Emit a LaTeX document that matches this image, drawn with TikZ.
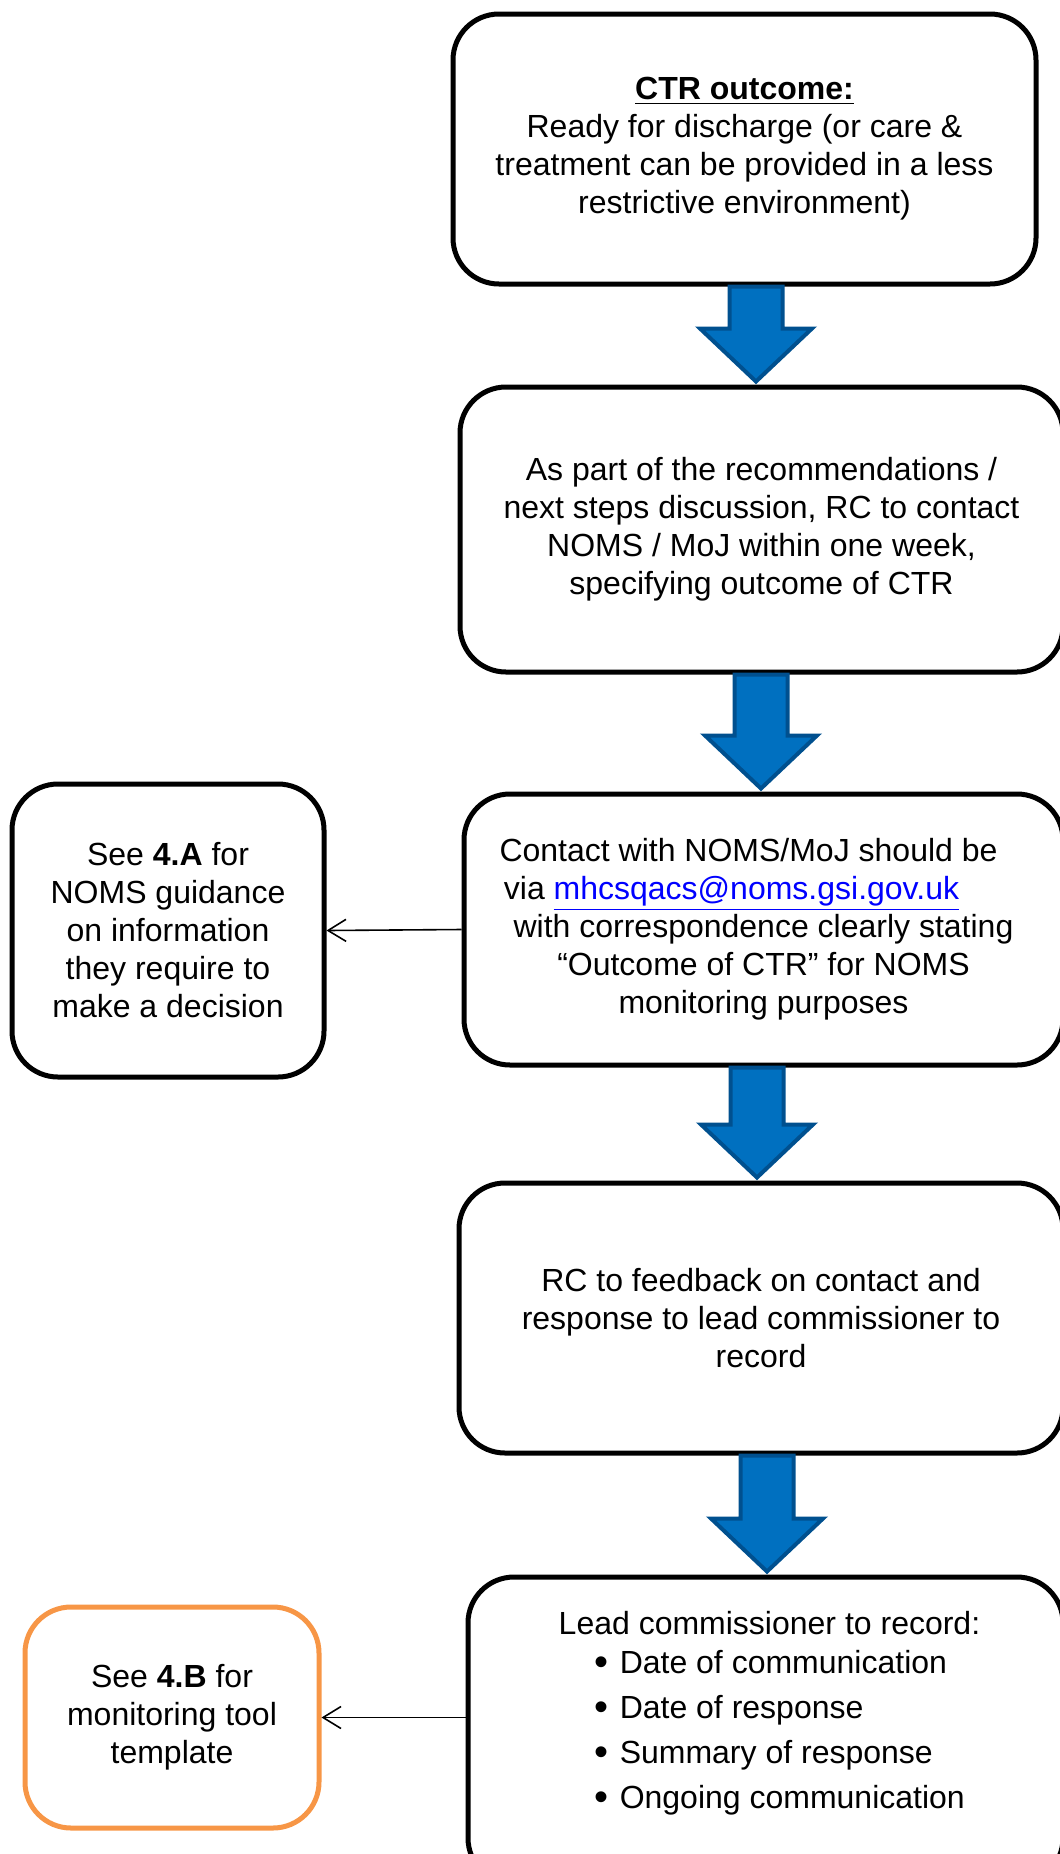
\documentclass[tikz,border=0pt]{standalone}
\usepackage{fontspec}
\setmainfont{Liberation Sans}
\usetikzlibrary{arrows.meta,calc}
\definecolor{arrowfill}{HTML}{0070C0}
\definecolor{arrowedge}{HTML}{00508F}
\definecolor{seeorange}{HTML}{F79646}
\definecolor{linkblue}{HTML}{0000FF}
\newcommand{\boxfont}{\fontsize{16pt}{19pt}\selectfont}
\newcommand{\itembullet}{\hspace{18pt}\raisebox{-1.2pt}{\fontsize{20pt}{19pt}\selectfont\textbullet}\hspace{5.5pt}}
\tikzset{
  flowbox/.style={draw, line width=2.5pt, rounded corners=23pt, align=center, font=\boxfont, inner sep=0pt},
  blockarrow/.style={draw=arrowedge, fill=arrowfill, line width=2pt},
  seearrow/.style={line width=0.8pt, -{Straight Barb[length=9pt,width=11pt]}}
}
\begin{document}
\begin{tikzpicture}[x=0.5pt, y=-0.5pt]
\useasboundingbox (0,0) rectangle (1060,1854);
\clip (0,0) rectangle (1060,1854);
% main column
\node[flowbox, minimum width=291.5pt, minimum height=135pt] (ctr) at (744.5,149)
  {\underline{\textbf{CTR outcome:}}\\ Ready for discharge (or care \&\\ treatment can be provided in a less\\ restrictive environment)};
\node[flowbox, minimum width=301.5pt, minimum height=142.5pt] (steps) at (761.5,529.5)
  {As part of the recommendations /\\ next steps discussion, RC to contact\\ NOMS / MoJ within one week,\\ specifying outcome of CTR};
\node[flowbox, minimum width=299.5pt, minimum height=135.5pt] (contact) at (763.5,929.5)
  {Contact with NOMS/MoJ should be\kern15pt\\ via \textcolor{linkblue}{\underline{mhcsqacs@noms.gsi.gov.uk}}\kern32pt\\ with correspondence clearly stating\\ “Outcome of CTR” for NOMS\\ monitoring purposes};
\node[flowbox, minimum width=302pt, minimum height=135pt] (feedback) at (761,1318)
  {RC to feedback on contact and\\ response to lead commissioner to\\ record};
\node[flowbox, minimum width=297.5pt, minimum height=153.5pt] (record) at (765.5,1730.5) {};
\node[anchor=north, font=\boxfont, inner sep=0pt] (recordtext) at ([xshift=2pt,yshift=-16.5pt]record.north)
  {\begin{tabular}{@{}l@{}}
    \multicolumn{1}{@{}c@{}}{Lead commissioner to record:}\\[0.5pt]
    \itembullet Date of communication\\[3.5pt]
    \itembullet Date of response\\[3.5pt]
    \itembullet Summary of response\\[3.5pt]
    \itembullet Ongoing communication
  \end{tabular}};
% side boxes
\node[flowbox, minimum width=156pt, minimum height=146.5pt] (guide) at (168,930.5)
  {See \textbf{4.A} for\\ NOMS guidance\\ on information\\ they require to\\ make a decision};
\node[flowbox, draw=seeorange, minimum width=147pt, minimum height=110.5pt] (template) at (172,1717.5)
  {See \textbf{4.B} for\\ monitoring tool\\ template};
% block arrows down the column
\foreach \from/\to/\ax in {ctr/steps/756, steps/contact/761, contact/feedback/757, feedback/record/767}{
  \draw[blockarrow] let \p1=(\from.south), \p2=(\to.north), \p3=(\ax,0) in
    (\x3-13.25pt,\y1) -- (\x3+13.25pt,\y1) -- (\x3+13.25pt,\y2+28pt) -- (\x3+28pt,\y2+28pt)
    -- (\x3,\y2+1.5pt) -- (\x3-28pt,\y2+28pt) -- (\x3-13.25pt,\y2+28pt) -- cycle;
}
% links to the side boxes
\draw[seearrow] (contact.west) -- (guide.east);
\draw[seearrow] (record.west |- template.east) -- (template.east);
\end{tikzpicture}
\end{document}
